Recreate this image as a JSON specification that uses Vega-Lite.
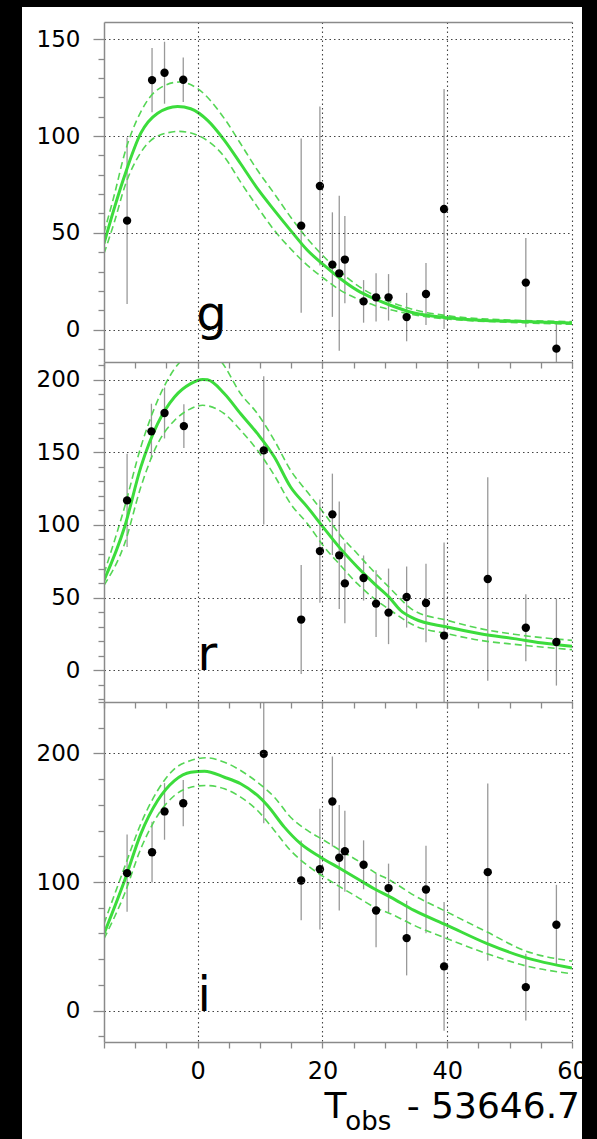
{
  "$schema": "https://vega.github.io/schema/vega-lite/v6.json",
  "background": "black",
  "padding": 0,
  "autosize": {"type": "pad"},
  "spacing": 0,
  "bounds": "flush",
  "config": {
    "view": {"stroke": null},
    "axis": {"labelFont": "DejaVu Sans", "titleFont": "DejaVu Sans"},
    "text": {"font": "DejaVu Sans"}
  },
  "datasets": {
    "pts": [
      {"b":"g","t":-11.3,"v":56.3,"lo":13.3,"hi":99.3},
      {"b":"g","t":-7.3,"v":128.9,"lo":112.3,"hi":145.5},
      {"b":"g","t":-5.3,"v":132.7,"lo":116.7,"hi":148.7},
      {"b":"g","t":-2.3,"v":129.1,"lo":117.6,"hi":140.6},
      {"b":"g","t":16.6,"v":53.7,"lo":8.7,"hi":98.7},
      {"b":"g","t":19.6,"v":74.2,"lo":33.2,"hi":115.2},
      {"b":"g","t":21.6,"v":33.6,"lo":6.6,"hi":60.6},
      {"b":"g","t":22.7,"v":29.1,"lo":-10.9,"hi":69.1},
      {"b":"g","t":23.6,"v":36.2,"lo":13.7,"hi":58.7},
      {"b":"g","t":26.6,"v":14.6,"lo":3.6,"hi":25.6},
      {"b":"g","t":28.6,"v":16.7,"lo":4.2,"hi":29.2},
      {"b":"g","t":30.6,"v":16.7,"lo":4.7,"hi":28.7},
      {"b":"g","t":33.5,"v":6.5,"lo":-6,"hi":19},
      {"b":"g","t":36.6,"v":18.4,"lo":2.4,"hi":34.4},
      {"b":"g","t":39.5,"v":62.3,"lo":0.3,"hi":124.3},
      {"b":"g","t":52.6,"v":24.3,"lo":1.3,"hi":47.3},
      {"b":"g","t":57.5,"v":-9.8,"lo":-22.8,"hi":3.2},
      {"b":"r","t":-11.3,"v":116.9,"lo":84.9,"hi":148.9},
      {"b":"r","t":-7.4,"v":164.4,"lo":145.4,"hi":183.4},
      {"b":"r","t":-5.3,"v":177,"lo":159.5,"hi":194.5},
      {"b":"r","t":-2.2,"v":168,"lo":153,"hi":183},
      {"b":"r","t":10.6,"v":151.3,"lo":100.3,"hi":202.3},
      {"b":"r","t":16.6,"v":34.9,"lo":-2.6,"hi":72.4},
      {"b":"r","t":19.6,"v":82,"lo":46.5,"hi":117.5},
      {"b":"r","t":21.6,"v":107.3,"lo":79.3,"hi":135.3},
      {"b":"r","t":22.7,"v":79.1,"lo":42.1,"hi":116.1},
      {"b":"r","t":23.6,"v":59.8,"lo":32.3,"hi":87.3},
      {"b":"r","t":26.6,"v":63.5,"lo":48,"hi":79},
      {"b":"r","t":28.6,"v":45.9,"lo":22.9,"hi":68.9},
      {"b":"r","t":30.6,"v":39.7,"lo":18,"hi":70},
      {"b":"r","t":33.5,"v":50.4,"lo":29.4,"hi":71.4},
      {"b":"r","t":36.6,"v":46.3,"lo":19.3,"hi":73.3},
      {"b":"r","t":39.5,"v":23.9,"lo":-40,"hi":88},
      {"b":"r","t":46.5,"v":62.8,"lo":-7.2,"hi":132.8},
      {"b":"r","t":52.6,"v":29.3,"lo":6.3,"hi":52.3},
      {"b":"r","t":57.5,"v":19.5,"lo":-10.5,"hi":49.5},
      {"b":"i","t":-11.3,"v":106.9,"lo":76.9,"hi":136.9},
      {"b":"i","t":-7.3,"v":123.2,"lo":99.6,"hi":146.8},
      {"b":"i","t":-5.3,"v":154.9,"lo":132.9,"hi":176.9},
      {"b":"i","t":-2.3,"v":161.3,"lo":143.3,"hi":179.3},
      {"b":"i","t":10.6,"v":199.7,"lo":145.7,"hi":253.7},
      {"b":"i","t":16.6,"v":101.2,"lo":70.2,"hi":132.2},
      {"b":"i","t":19.6,"v":110,"lo":63,"hi":157},
      {"b":"i","t":21.6,"v":162.6,"lo":127.6,"hi":197.6},
      {"b":"i","t":22.7,"v":118.9,"lo":77.9,"hi":159.9},
      {"b":"i","t":23.6,"v":124,"lo":92.5,"hi":155.5},
      {"b":"i","t":26.6,"v":113.4,"lo":94.4,"hi":132.4},
      {"b":"i","t":28.6,"v":77.9,"lo":49.2,"hi":106.6},
      {"b":"i","t":30.6,"v":95.3,"lo":76.3,"hi":114.3},
      {"b":"i","t":33.5,"v":56.4,"lo":27.4,"hi":85.4},
      {"b":"i","t":36.6,"v":94.2,"lo":60.2,"hi":128.2},
      {"b":"i","t":39.5,"v":34.4,"lo":-15.6,"hi":84.4},
      {"b":"i","t":46.5,"v":107.7,"lo":38.7,"hi":176.7},
      {"b":"i","t":52.6,"v":18.3,"lo":-7.7,"hi":44.3},
      {"b":"i","t":57.5,"v":66.8,"lo":35.8,"hi":97.8}
    ],
    "fit": [
      {"b":"g","k":"best","t":-15,"v":44.5},{"b":"g","k":"best","t":-13.3,"v":63.3},{"b":"g","k":"best","t":-11.7,"v":79.5},{"b":"g","k":"best","t":-9.1,"v":101.5},{"b":"g","k":"best","t":-6.4,"v":111.8},{"b":"g","k":"best","t":-3.2,"v":115.3},{"b":"g","k":"best","t":-1.1,"v":114.1},{"b":"g","k":"best","t":1.6,"v":108.1},{"b":"g","k":"best","t":4.3,"v":97.8},{"b":"g","k":"best","t":6.9,"v":85.7},{"b":"g","k":"best","t":9.6,"v":72.8},{"b":"g","k":"best","t":12.3,"v":61.6},{"b":"g","k":"best","t":14.9,"v":51.3},{"b":"g","k":"best","t":17.6,"v":41},{"b":"g","k":"best","t":20.3,"v":33.2},{"b":"g","k":"best","t":22.9,"v":26.3},{"b":"g","k":"best","t":25.6,"v":20.3},{"b":"g","k":"best","t":28.3,"v":16},{"b":"g","k":"best","t":30.9,"v":12.6},{"b":"g","k":"best","t":34.7,"v":8.6},{"b":"g","k":"best","t":40,"v":6.2},{"b":"g","k":"best","t":45.3,"v":4.8},{"b":"g","k":"best","t":50.7,"v":4.3},{"b":"g","k":"best","t":60,"v":3.4},
      {"b":"g","k":"up","t":-15,"v":50},{"b":"g","k":"up","t":-13.3,"v":70.2},{"b":"g","k":"up","t":-11.7,"v":90.9},{"b":"g","k":"up","t":-9.1,"v":112.5},{"b":"g","k":"up","t":-6.4,"v":124},{"b":"g","k":"up","t":-2.9,"v":127.9},{"b":"g","k":"up","t":0,"v":124.5},{"b":"g","k":"up","t":4.3,"v":109},{"b":"g","k":"up","t":6.9,"v":96},{"b":"g","k":"up","t":9.6,"v":82.3},{"b":"g","k":"up","t":12.3,"v":70.2},{"b":"g","k":"up","t":14.9,"v":58.2},{"b":"g","k":"up","t":17.6,"v":47},{"b":"g","k":"up","t":20.3,"v":37.5},{"b":"g","k":"up","t":22.9,"v":29.8},{"b":"g","k":"up","t":25.6,"v":22.9},{"b":"g","k":"up","t":28.3,"v":17.7},{"b":"g","k":"up","t":30.9,"v":14.3},{"b":"g","k":"up","t":35,"v":10},{"b":"g","k":"up","t":40,"v":7.2},{"b":"g","k":"up","t":50,"v":5},{"b":"g","k":"up","t":60,"v":4.2},
      {"b":"g","k":"lo","t":-15,"v":39.3},{"b":"g","k":"lo","t":-13.3,"v":56},{"b":"g","k":"lo","t":-11.7,"v":73.7},{"b":"g","k":"lo","t":-9.1,"v":91.5},{"b":"g","k":"lo","t":-6.4,"v":100},{"b":"g","k":"lo","t":-2.9,"v":102.4},{"b":"g","k":"lo","t":0,"v":100.4},{"b":"g","k":"lo","t":4.3,"v":89.2},{"b":"g","k":"lo","t":6.9,"v":76.2},{"b":"g","k":"lo","t":9.6,"v":63.3},{"b":"g","k":"lo","t":12.3,"v":51.3},{"b":"g","k":"lo","t":14.9,"v":41.8},{"b":"g","k":"lo","t":17.6,"v":33.2},{"b":"g","k":"lo","t":20.3,"v":26.3},{"b":"g","k":"lo","t":22.9,"v":20.3},{"b":"g","k":"lo","t":25.6,"v":16},{"b":"g","k":"lo","t":28.3,"v":12.6},{"b":"g","k":"lo","t":30.9,"v":10.3},{"b":"g","k":"lo","t":35,"v":7.5},{"b":"g","k":"lo","t":40,"v":5.5},{"b":"g","k":"lo","t":50,"v":3.8},{"b":"g","k":"lo","t":60,"v":2.8},
      {"b":"r","k":"best","t":-15,"v":61.9},{"b":"r","k":"best","t":-11.7,"v":98.6},{"b":"r","k":"best","t":-9.1,"v":139.8},{"b":"r","k":"best","t":-6.4,"v":169.7},{"b":"r","k":"best","t":-3.7,"v":188},{"b":"r","k":"best","t":-1.1,"v":197.2},{"b":"r","k":"best","t":0.8,"v":200.1},{"b":"r","k":"best","t":1.6,"v":199.9},{"b":"r","k":"best","t":4.3,"v":190.3},{"b":"r","k":"best","t":6.9,"v":176.5},{"b":"r","k":"best","t":9.6,"v":162.8},{"b":"r","k":"best","t":12.3,"v":146.7},{"b":"r","k":"best","t":14.9,"v":126.1},{"b":"r","k":"best","t":17.6,"v":112.3},{"b":"r","k":"best","t":20.3,"v":97.5},{"b":"r","k":"best","t":22.9,"v":83.7},{"b":"r","k":"best","t":25.6,"v":71.1},{"b":"r","k":"best","t":28.3,"v":59.6},{"b":"r","k":"best","t":30.9,"v":49.3},{"b":"r","k":"best","t":32.5,"v":41.3},{"b":"r","k":"best","t":34.7,"v":35.5},{"b":"r","k":"best","t":40,"v":29.8},{"b":"r","k":"best","t":45.3,"v":25.2},{"b":"r","k":"best","t":50.7,"v":21.8},{"b":"r","k":"best","t":56,"v":18.4},{"b":"r","k":"best","t":60,"v":16.5},
      {"b":"r","k":"up","t":-15,"v":66.5},{"b":"r","k":"up","t":-11.7,"v":112.3},{"b":"r","k":"up","t":-9.1,"v":153.6},{"b":"r","k":"up","t":-6.4,"v":185.7},{"b":"r","k":"up","t":-2.7,"v":212.7},{"b":"r","k":"up","t":0.5,"v":220},{"b":"r","k":"up","t":3.7,"v":212.7},{"b":"r","k":"up","t":6.9,"v":190.3},{"b":"r","k":"up","t":9.6,"v":176.5},{"b":"r","k":"up","t":12.3,"v":158.2},{"b":"r","k":"up","t":14.9,"v":137.6},{"b":"r","k":"up","t":17.6,"v":122.6},{"b":"r","k":"up","t":20.3,"v":107.8},{"b":"r","k":"up","t":22.9,"v":92.8},{"b":"r","k":"up","t":25.6,"v":80.2},{"b":"r","k":"up","t":28.3,"v":67.6},{"b":"r","k":"up","t":30.9,"v":56.2},{"b":"r","k":"up","t":34.7,"v":41},{"b":"r","k":"up","t":40,"v":34.4},{"b":"r","k":"up","t":45.3,"v":28.7},{"b":"r","k":"up","t":50.7,"v":24.8},{"b":"r","k":"up","t":60,"v":20.6},
      {"b":"r","k":"lo","t":-15,"v":58.5},{"b":"r","k":"lo","t":-11.7,"v":87.1},{"b":"r","k":"lo","t":-9.1,"v":126.1},{"b":"r","k":"lo","t":-6.4,"v":155.9},{"b":"r","k":"lo","t":-3.7,"v":171.9},{"b":"r","k":"lo","t":-1.1,"v":180},{"b":"r","k":"lo","t":0.8,"v":182.3},{"b":"r","k":"lo","t":4.3,"v":176.5},{"b":"r","k":"lo","t":6.9,"v":165.1},{"b":"r","k":"lo","t":9.6,"v":151.3},{"b":"r","k":"lo","t":12.3,"v":134.1},{"b":"r","k":"lo","t":14.9,"v":114.6},{"b":"r","k":"lo","t":17.6,"v":100.9},{"b":"r","k":"lo","t":20.3,"v":84.8},{"b":"r","k":"lo","t":22.9,"v":72.2},{"b":"r","k":"lo","t":25.6,"v":59.6},{"b":"r","k":"lo","t":28.3,"v":49.3},{"b":"r","k":"lo","t":30.9,"v":41.3},{"b":"r","k":"lo","t":34.7,"v":30.9},{"b":"r","k":"lo","t":40,"v":25.2},{"b":"r","k":"lo","t":45.3,"v":20.6},{"b":"r","k":"lo","t":50.7,"v":17.9},{"b":"r","k":"lo","t":60,"v":14.2},
      {"b":"i","k":"best","t":-15,"v":59.8},{"b":"i","k":"best","t":-11.7,"v":101.2},{"b":"i","k":"best","t":-9.1,"v":137.5},{"b":"i","k":"best","t":-6.4,"v":163.4},{"b":"i","k":"best","t":-3.7,"v":178.9},{"b":"i","k":"best","t":-1.1,"v":185.4},{"b":"i","k":"best","t":1.1,"v":186.2},{"b":"i","k":"best","t":4.3,"v":181.5},{"b":"i","k":"best","t":6.9,"v":176.4},{"b":"i","k":"best","t":9.6,"v":167.3},{"b":"i","k":"best","t":11.2,"v":159.5},{"b":"i","k":"best","t":13.9,"v":142.7},{"b":"i","k":"best","t":16.5,"v":129.8},{"b":"i","k":"best","t":19.7,"v":119.3},{"b":"i","k":"best","t":22.9,"v":110.3},{"b":"i","k":"best","t":25.6,"v":102.6},{"b":"i","k":"best","t":28.3,"v":94.8},{"b":"i","k":"best","t":30.9,"v":88.3},{"b":"i","k":"best","t":34.7,"v":77.9},{"b":"i","k":"best","t":40,"v":66.3},{"b":"i","k":"best","t":46.4,"v":52.1},{"b":"i","k":"best","t":52.3,"v":41.6},{"b":"i","k":"best","t":60,"v":33.1},
      {"b":"i","k":"up","t":-15,"v":67.6},{"b":"i","k":"up","t":-11.7,"v":111.6},{"b":"i","k":"up","t":-9.1,"v":145.3},{"b":"i","k":"up","t":-6.4,"v":171.2},{"b":"i","k":"up","t":-3.7,"v":188},{"b":"i","k":"up","t":-1.1,"v":194.5},{"b":"i","k":"up","t":1.3,"v":196.6},{"b":"i","k":"up","t":4.3,"v":193.2},{"b":"i","k":"up","t":6.9,"v":186.7},{"b":"i","k":"up","t":9.6,"v":177.6},{"b":"i","k":"up","t":12.3,"v":166},{"b":"i","k":"up","t":14.9,"v":150.4},{"b":"i","k":"up","t":17.6,"v":140.1},{"b":"i","k":"up","t":20.3,"v":132.3},{"b":"i","k":"up","t":22.9,"v":124.5},{"b":"i","k":"up","t":25.6,"v":116.8},{"b":"i","k":"up","t":28.3,"v":107.7},{"b":"i","k":"up","t":30.9,"v":101.2},{"b":"i","k":"up","t":34.7,"v":89.6},{"b":"i","k":"up","t":40,"v":76.6},{"b":"i","k":"up","t":46.4,"v":61.1},{"b":"i","k":"up","t":52.3,"v":46.9},{"b":"i","k":"up","t":60,"v":38.5},
      {"b":"i","k":"lo","t":-15,"v":55.9},{"b":"i","k":"lo","t":-11.7,"v":90.9},{"b":"i","k":"lo","t":-9.1,"v":125.9},{"b":"i","k":"lo","t":-6.4,"v":151.7},{"b":"i","k":"lo","t":-3.7,"v":167.3},{"b":"i","k":"lo","t":-1.1,"v":173.7},{"b":"i","k":"lo","t":1.3,"v":175.1},{"b":"i","k":"lo","t":4.3,"v":172.5},{"b":"i","k":"lo","t":6.9,"v":166},{"b":"i","k":"lo","t":9.6,"v":155.6},{"b":"i","k":"lo","t":12.3,"v":140.1},{"b":"i","k":"lo","t":14.9,"v":124.5},{"b":"i","k":"lo","t":17.6,"v":112.9},{"b":"i","k":"lo","t":20.3,"v":103.8},{"b":"i","k":"lo","t":22.9,"v":96},{"b":"i","k":"lo","t":25.6,"v":88.3},{"b":"i","k":"lo","t":28.3,"v":80.5},{"b":"i","k":"lo","t":30.9,"v":75.4},{"b":"i","k":"lo","t":34.7,"v":66.3},{"b":"i","k":"lo","t":40,"v":55.9},{"b":"i","k":"lo","t":46.4,"v":44.3},{"b":"i","k":"lo","t":52.3,"v":35.2},{"b":"i","k":"lo","t":60,"v":28.7}
    ]
  },
  "vconcat": [
    {
      "width": 468, "height": 340,
      "layer": [
        {
          "data": {"values": [{}]},
          "mark": {"type": "rect", "color": "black"},
          "encoding": {
            "x": {"datum": -31.666, "type": "quantitative", "scale": {"domain": [-15, 60], "nice": false, "zero": false},
              "axis": {"orient": "bottom", "values": [0, 20, 40, 60], "title": null, "domain": false, "ticks": false, "labels": false, "grid": true, "gridColor": "#444444", "gridDash": [1.5, 3], "gridWidth": 1.1, "zindex": 1}},
            "x2": {"datum": 64.006},
            "y": {"datum": 170.26, "type": "quantitative", "scale": {"domain": [-16.7, 158.9], "nice": false, "zero": false},
              "axis": {"orient": "left", "values": [-10,0,10,20,30,40,50,60,70,80,90,100,110,120,130,140,150], "title": null,
                "domain": true, "domainColor": "#8a8a8a", "domainWidth": 1.5, "ticks": true, "tickColor": "#8a8a8a", "tickWidth": 1.3,
                "tickSize": {"condition": {"test": "datum.value % 50 === 0", "value": 11}, "value": 6},
                "labelExpr": "datum.value % 50 === 0 ? datum.label : ''", "labelFontSize": 23, "labelColor": "black", "labelPadding": 13,
                "labelOverlap": false, "labelBound": false, "labelFlush": false,
                "grid": true, "gridColor": "#444444", "gridDash": [1.5, 3], "gridWidth": 1.1,
                "gridOpacity": {"condition": {"test": "datum.value % 50 === 0", "value": 1}, "value": 0}, "zindex": 1}},
            "y2": {"datum": -16.7}
          }
        },
        {
          "data": {"values": [{}]},
          "mark": {"type": "rect", "color": "white"},
          "encoding": {
            "x": {"datum": -28.141, "type": "quantitative", "axis": {"orient": "top", "title": null, "domain": true, "domainColor": "#8a8a8a", "domainWidth": 1.5, "ticks": false, "labels": false, "grid": false, "zindex": 1}},
            "x2": {"datum": 61.603},
            "y": {"datum": 166.65, "type": "quantitative", "axis": null},
            "y2": {"datum": -16.7}
          }
        },
        {
          "data": {"name": "pts"}, "transform": [{"filter": "datum.b === 'g'"}],
          "mark": {"type": "rule", "color": "#999999", "strokeWidth": 1.3, "clip": true},
          "encoding": {"x": {"field": "t", "type": "quantitative", "axis": null}, "y": {"field": "lo", "type": "quantitative", "axis": null}, "y2": {"field": "hi"}}
        },
        {
          "data": {"name": "fit"}, "transform": [{"filter": "datum.b === 'g' && datum.k !== 'best'"}],
          "mark": {"type": "line", "color": "#55d655", "strokeWidth": 1.6, "strokeDash": [7, 4], "clip": true, "interpolate": "monotone"},
          "encoding": {"x": {"field": "t", "type": "quantitative", "axis": null}, "y": {"field": "v", "type": "quantitative", "axis": null}, "detail": {"field": "k"}}
        },
        {
          "data": {"name": "fit"}, "transform": [{"filter": "datum.b === 'g' && datum.k === 'best'"}],
          "mark": {"type": "line", "color": "#3cdc3c", "strokeWidth": 3, "clip": true, "interpolate": "monotone"},
          "encoding": {"x": {"field": "t", "type": "quantitative", "axis": null}, "y": {"field": "v", "type": "quantitative", "axis": null}}
        },
        {
          "data": {"name": "pts"}, "transform": [{"filter": "datum.b === 'g'"}],
          "mark": {"type": "circle", "color": "black", "size": 70, "opacity": 1, "clip": true},
          "encoding": {"x": {"field": "t", "type": "quantitative", "axis": null}, "y": {"field": "v", "type": "quantitative", "axis": null}}
        },
        {
          "data": {"values": [{}]},
          "mark": {"type": "text", "text": "g", "fontSize": 48, "align": "left", "baseline": "alphabetic", "color": "black"},
          "encoding": {"x": {"datum": -0.2, "type": "quantitative", "axis": null}, "y": {"datum": 0, "type": "quantitative", "axis": null}}
        }
      ],
      "resolve": {"axis": {"x": "independent", "y": "independent"}}
    },
    {
      "width": 468, "height": 340,
      "layer": [
        {
          "data": {"values": [{}]},
          "mark": {"type": "rect", "color": "white"},
          "encoding": {
            "x": {"datum": -28.141, "type": "quantitative", "scale": {"domain": [-15, 60], "nice": false, "zero": false},
              "axis": {"orient": "bottom", "values": [0, 20, 40, 60], "title": null, "domain": false, "ticks": false, "labels": false, "grid": true, "gridColor": "#444444", "gridDash": [1.5, 3], "gridWidth": 1.1, "zindex": 1}},
            "x2": {"datum": 61.603},
            "y": {"datum": 212.1, "type": "quantitative", "scale": {"domain": [-21.8, 212.1], "nice": false, "zero": false},
              "axis": {"orient": "left", "values": [-20,-10,0,10,20,30,40,50,60,70,80,90,100,110,120,130,140,150,160,170,180,190,200,210], "title": null,
                "domain": true, "domainColor": "#8a8a8a", "domainWidth": 1.5, "ticks": true, "tickColor": "#8a8a8a", "tickWidth": 1.3,
                "tickSize": {"condition": {"test": "datum.value % 50 === 0", "value": 11}, "value": 6},
                "labelExpr": "datum.value % 50 === 0 ? datum.label : ''", "labelFontSize": 23, "labelColor": "black", "labelPadding": 13,
                "labelOverlap": false, "labelBound": false, "labelFlush": false,
                "grid": true, "gridColor": "#444444", "gridDash": [1.5, 3], "gridWidth": 1.1,
                "gridOpacity": {"condition": {"test": "datum.value % 50 === 0", "value": 1}, "value": 0}, "zindex": 1}},
            "y2": {"datum": -21.8}
          }
        },
        {
          "data": {"name": "pts"}, "transform": [{"filter": "datum.b === 'r'"}],
          "mark": {"type": "rule", "color": "#999999", "strokeWidth": 1.3, "clip": true},
          "encoding": {
            "x": {"field": "t", "type": "quantitative", "axis": {"orient": "top", "values": [-15,-10,-5,0,5,10,15,20,25,30,35,40,45,50,55,60], "title": null, "domain": true, "domainColor": "#8a8a8a", "domainWidth": 1.5, "ticks": true, "tickSize": -6, "tickColor": "#8a8a8a", "tickWidth": 1.3, "labels": false, "grid": false, "zindex": 1}},
            "y": {"field": "lo", "type": "quantitative", "axis": null}, "y2": {"field": "hi"}}
        },
        {
          "data": {"name": "fit"}, "transform": [{"filter": "datum.b === 'r' && datum.k !== 'best'"}],
          "mark": {"type": "line", "color": "#55d655", "strokeWidth": 1.6, "strokeDash": [7, 4], "clip": true, "interpolate": "monotone"},
          "encoding": {"x": {"field": "t", "type": "quantitative", "axis": null}, "y": {"field": "v", "type": "quantitative", "axis": null}, "detail": {"field": "k"}}
        },
        {
          "data": {"name": "fit"}, "transform": [{"filter": "datum.b === 'r' && datum.k === 'best'"}],
          "mark": {"type": "line", "color": "#3cdc3c", "strokeWidth": 3, "clip": true, "interpolate": "monotone"},
          "encoding": {"x": {"field": "t", "type": "quantitative", "axis": null}, "y": {"field": "v", "type": "quantitative", "axis": null}}
        },
        {
          "data": {"name": "pts"}, "transform": [{"filter": "datum.b === 'r'"}],
          "mark": {"type": "circle", "color": "black", "size": 70, "opacity": 1, "clip": true},
          "encoding": {"x": {"field": "t", "type": "quantitative", "axis": null}, "y": {"field": "v", "type": "quantitative", "axis": null}}
        },
        {
          "data": {"values": [{}]},
          "mark": {"type": "text", "text": "r", "fontSize": 48, "align": "left", "baseline": "alphabetic", "color": "black"},
          "encoding": {"x": {"datum": 0, "type": "quantitative", "axis": null}, "y": {"datum": 0, "type": "quantitative", "axis": null}}
        }
      ],
      "resolve": {"axis": {"x": "independent", "y": "independent"}}
    },
    {
      "width": 468, "height": 340,
      "layer": [
        {
          "data": {"values": [{}]},
          "mark": {"type": "rect", "color": "white"},
          "encoding": {
            "x": {"datum": -28.141, "type": "quantitative", "scale": {"domain": [-15, 60], "nice": false, "zero": false},
              "axis": {"orient": "bottom", "values": [-15,-10,-5,0,5,10,15,20,25,30,35,40,45,50,55,60], "title": null,
                "domain": true, "domainColor": "#8a8a8a", "domainWidth": 1.5, "ticks": true, "tickSize": 6, "tickColor": "#8a8a8a", "tickWidth": 1.3,
                "labelExpr": "datum.value % 20 === 0 ? datum.label : ''", "labelFontSize": 24, "labelColor": "black", "labelPadding": 11,
                "labelOverlap": false, "labelBound": false, "labelFlush": false,
                "grid": true, "gridColor": "#444444", "gridDash": [1.5, 3], "gridWidth": 1.1,
                "gridOpacity": {"condition": {"test": "datum.value % 20 === 0", "value": 1}, "value": 0}, "zindex": 1}},
            "x2": {"datum": 61.603},
            "y": {"datum": 240, "type": "quantitative", "scale": {"domain": [-24.4, 240], "nice": false, "zero": false},
              "axis": {"orient": "left", "values": [-20,0,20,40,60,80,100,120,140,160,180,200,220,240], "title": null,
                "domain": true, "domainColor": "#8a8a8a", "domainWidth": 1.5, "ticks": true, "tickColor": "#8a8a8a", "tickWidth": 1.3,
                "tickSize": {"condition": {"test": "datum.value % 100 === 0", "value": 11}, "value": 6},
                "labelExpr": "datum.value % 100 === 0 ? datum.label : ''", "labelFontSize": 23, "labelColor": "black", "labelPadding": 13,
                "labelOverlap": false, "labelBound": false, "labelFlush": false,
                "grid": true, "gridColor": "#444444", "gridDash": [1.5, 3], "gridWidth": 1.1,
                "gridOpacity": {"condition": {"test": "datum.value % 100 === 0", "value": 1}, "value": 0}, "zindex": 1}},
            "y2": {"datum": -99.8}
          }
        },
        {
          "data": {"name": "pts"}, "transform": [{"filter": "datum.b === 'i'"}],
          "mark": {"type": "rule", "color": "#999999", "strokeWidth": 1.3, "clip": true},
          "encoding": {
            "x": {"field": "t", "type": "quantitative", "axis": {"orient": "top", "values": [-15,-10,-5,0,5,10,15,20,25,30,35,40,45,50,55,60], "title": null, "domain": true, "domainColor": "#8a8a8a", "domainWidth": 1.5, "ticks": true, "tickSize": -6, "tickColor": "#8a8a8a", "tickWidth": 1.3, "labels": false, "grid": false, "zindex": 1}},
            "y": {"field": "lo", "type": "quantitative", "axis": null}, "y2": {"field": "hi"}}
        },
        {
          "data": {"name": "fit"}, "transform": [{"filter": "datum.b === 'i' && datum.k !== 'best'"}],
          "mark": {"type": "line", "color": "#55d655", "strokeWidth": 1.6, "strokeDash": [7, 4], "clip": true, "interpolate": "monotone"},
          "encoding": {"x": {"field": "t", "type": "quantitative", "axis": null}, "y": {"field": "v", "type": "quantitative", "axis": null}, "detail": {"field": "k"}}
        },
        {
          "data": {"name": "fit"}, "transform": [{"filter": "datum.b === 'i' && datum.k === 'best'"}],
          "mark": {"type": "line", "color": "#3cdc3c", "strokeWidth": 3, "clip": true, "interpolate": "monotone"},
          "encoding": {"x": {"field": "t", "type": "quantitative", "axis": null}, "y": {"field": "v", "type": "quantitative", "axis": null}}
        },
        {
          "data": {"name": "pts"}, "transform": [{"filter": "datum.b === 'i'"}],
          "mark": {"type": "circle", "color": "black", "size": 70, "opacity": 1, "clip": true},
          "encoding": {"x": {"field": "t", "type": "quantitative", "axis": null}, "y": {"field": "v", "type": "quantitative", "axis": null}}
        },
        {
          "data": {"values": [{}]},
          "mark": {"type": "text", "text": "i", "fontSize": 48, "align": "left", "baseline": "alphabetic", "color": "black"},
          "encoding": {"x": {"datum": 0, "type": "quantitative", "axis": null}, "y": {"datum": 0, "type": "quantitative", "axis": null}}
        },
        {
          "data": {"values": [{}]},
          "mark": {"type": "text", "text": "T", "fontSize": 36, "align": "left", "baseline": "alphabetic", "color": "black"},
          "encoding": {"x": {"datum": 20.34, "type": "quantitative", "axis": null}, "y": {"datum": -83.5, "type": "quantitative", "axis": null}}
        },
        {
          "data": {"values": [{}]},
          "mark": {"type": "text", "text": "obs", "fontSize": 26, "align": "left", "baseline": "alphabetic", "color": "black"},
          "encoding": {"x": {"datum": 23.67, "type": "quantitative", "axis": null}, "y": {"datum": -92.8, "type": "quantitative", "axis": null}}
        },
        {
          "data": {"values": [{}]},
          "mark": {"type": "text", "text": "- 53646.7", "fontSize": 36, "align": "right", "baseline": "alphabetic", "color": "black"},
          "encoding": {"x": {"datum": 61.28, "type": "quantitative", "axis": null}, "y": {"datum": -83.5, "type": "quantitative", "axis": null}}
        }
      ],
      "resolve": {"axis": {"x": "independent", "y": "independent"}}
    }
  ]
}
